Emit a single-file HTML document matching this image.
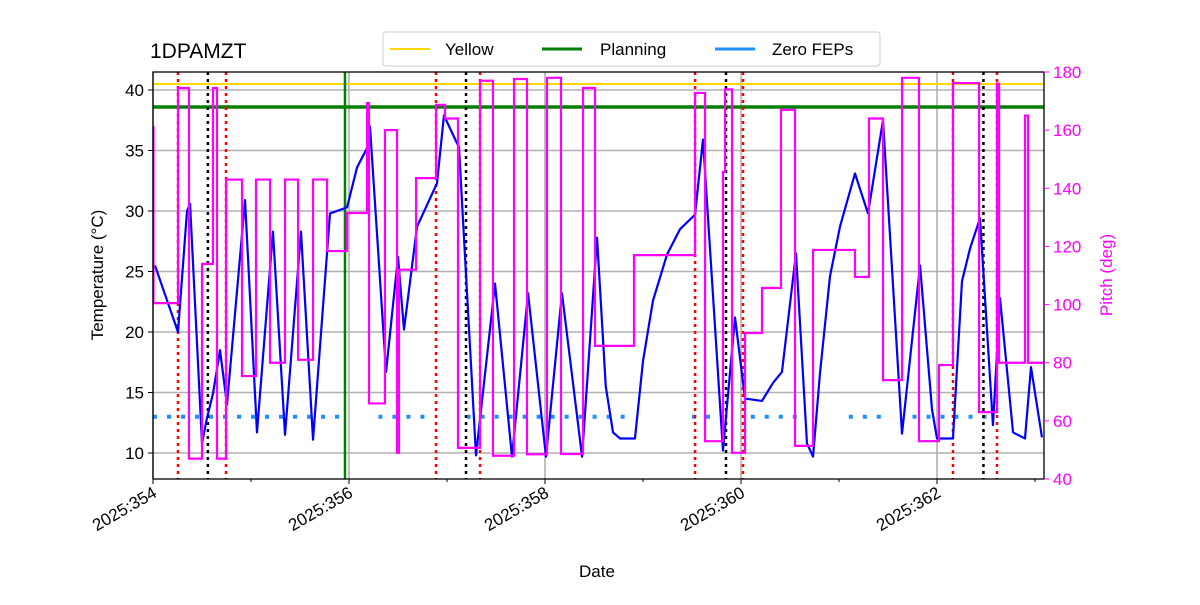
<!DOCTYPE html>
<html><head><meta charset="utf-8"><style>
body{margin:0;background:#fff;}
svg text{font-family:"Liberation Sans","DejaVu Sans",sans-serif;}
</style></head><body>
<svg id="chart" width="1200" height="600" xmlns="http://www.w3.org/2000/svg">
<rect width="1200" height="600" fill="#fff"/>
<g id="grid"></g><g id="series"></g><g id="axes"></g>
<text x="150" y="58" font-size="21">1DPAMZT</text>
<text x="597" y="577" font-size="17" text-anchor="middle">Date</text>
<text transform="translate(103,275) rotate(-90)" font-size="17" text-anchor="middle">Temperature (°C)</text>
<text transform="translate(1112,275) rotate(-90)" font-size="17" text-anchor="middle" fill="magenta">Pitch (deg)</text>
<g>
<rect x="383" y="32" width="497" height="34" rx="3" fill="#fff" stroke="#ccc"/>
<line x1="390" y1="49" x2="430" y2="49" stroke="gold" stroke-width="2"/>
<text x="445" y="55" font-size="17">Yellow</text>
<line x1="542" y1="49" x2="582" y2="49" stroke="green" stroke-width="3"/>
<text x="600" y="55" font-size="17">Planning</text>
<line x1="715" y1="49" x2="755" y2="49" stroke="dodgerblue" stroke-width="3"/>
<text x="772" y="55" font-size="17">Zero FEPs</text>
</g>
</svg>
<script>
const tempDays=[354.02,354.255,354.347,354.378,354.5,354.551,354.612,354.684,354.755,354.939,355.061,355.224,355.347,355.51,355.633,355.806,355.98,356.082,356.184,356.214,356.378,356.5,356.561,356.694,356.898,356.969,357.102,357.122,357.296,357.49,357.663,357.827,358.01,358.173,358.378,358.531,358.62,358.694,358.765,358.918,359.0,359.102,359.245,359.378,359.531,359.612,359.816,359.939,360.041,360.214,360.327,360.418,360.561,360.673,360.735,360.806,360.908,361.01,361.163,361.296,361.449,361.643,361.827,361.949,362.0,362.163,362.255,362.337,362.439,362.571,362.643,362.776,362.898,362.959,363.071];
const tempVals=[25.5,20,30,30.6,10.8,12.9,14.9,18.5,14,30.9,11.7,28.3,11.5,28.3,11.1,29.8,30.3,33.6,35.2,37,16.7,26.2,20.2,28.7,32.3,37.9,35.6,35.3,9.8,24,9.7,23.2,9.7,23.2,9.7,27.8,15.5,11.7,11.2,11.2,17.6,22.6,26.4,28.5,29.7,35.9,10.2,21.2,14.5,14.3,15.8,16.7,26.5,10.8,9.7,16.6,24.6,28.7,33.1,29.8,37.5,11.6,25.5,13.6,11.2,11.2,24.2,26.9,29.4,12.3,22.8,11.7,11.2,17.1,11.3];
const pitchDays=[354.0,354.005,354.255,354.367,354.5,354.612,354.653,354.745,354.908,355.051,355.194,355.347,355.48,355.633,355.776,355.98,356.184,356.204,356.367,356.49,356.51,356.684,356.888,356.98,357.112,357.337,357.469,357.684,357.816,358.02,358.163,358.388,358.51,358.908,359.531,359.633,359.816,359.837,359.908,360.041,360.214,360.408,360.551,360.735,361.163,361.306,361.449,361.643,361.816,362.02,362.163,362.429,362.612,362.633,362.898,362.929,363.09];
const pitchVals=[161,100.5,174.5,47,114,174.5,47,143,75.4,143,80,143,81,143,118.4,131.5,169.3,66,160,49,112,143.5,168.7,164,50.7,177,48,177.6,48.5,178,48.6,174.5,85.8,117,172.8,53,145.6,174,49,90.2,105.7,167,51.4,118.8,109.5,164,74,178,53,79.2,176.2,63,176,80,165,80,80];
const redLines=[354.255,354.745,356.888,357.337,359.531,360.02,362.163,362.612];
const blackLines=[354.56,357.194,359.847,362.474];
const planningDay=355.959;
const yellowLimit=40.5, planningLimit=38.6, zeroFep=13;
const fepSegments=[[354.0,356.0],[356.3,356.8],[357.2,358.9],[359.5,359.9],[360.1,360.6],[361.1,361.45],[361.75,362.6]];
const leftTicks=[10,15,20,25,30,35,40];
const rightTicks=[40,60,80,100,120,140,160,180];
const xTicks=[354,356,358,360,362];
const xMinor=[355,357,359,361,363];

const L=153,R=1044,T=72,B=479;
const x=d=>L+(d-354)*98;
const y=v=>453-(v-10)*12.1;
const yp=p=>B-(p-40)*(B-T)/140;
const NS='http://www.w3.org/2000/svg';
function mk(par,tag,at){const e=document.createElementNS(NS,tag);for(const k in at)e.setAttribute(k,at[k]);document.getElementById(par).appendChild(e);return e;}

for(const v of leftTicks){const e=mk('grid','line',{x1:L,x2:R,y1:y(v),y2:y(v),stroke:'#b0b0b0','stroke-width':1.6});

}
for(const d of xTicks){const e=mk('grid','line',{x1:x(d),x2:x(d),y1:T,y2:B,stroke:'#b0b0b0','stroke-width':1.6});

}

let e;
e=mk('series','line',{x1:L,x2:R,y1:y(yellowLimit),y2:y(yellowLimit),stroke:'gold','stroke-width':2});


e=mk('series','line',{x1:L,x2:R,y1:y(planningLimit),y2:y(planningLimit),stroke:'green','stroke-width':3.5});


e=mk('series','line',{x1:x(planningDay),x2:x(planningDay),y1:T,y2:B,stroke:'green','stroke-width':2.5});


for(const s of fepSegments){e=mk('series','line',{x1:x(s[0]),x2:x(s[1]),y1:y(zeroFep),y2:y(zeroFep),stroke:'dodgerblue','stroke-width':4,'stroke-dasharray':'4 10'});

}
for(const d of redLines){e=mk('series','line',{x1:x(d),x2:x(d),y1:T,y2:B,stroke:'red','stroke-width':2.5,'stroke-dasharray':'3 4'});

}
for(const d of blackLines){e=mk('series','line',{x1:x(d),x2:x(d),y1:T,y2:B,stroke:'black','stroke-width':2.5,'stroke-dasharray':'3 4'});

}

let pts=tempDays.map((d,i)=>x(d)+','+y(tempVals[i])).join(' ');
e=mk('series','polyline',{points:pts,fill:'none',stroke:'blue','stroke-width':2.2,'stroke-linejoin':'round'});


let sp=[];
for(let i=0;i<pitchDays.length;i++){if(i>0)sp.push(x(pitchDays[i])+','+yp(pitchVals[i-1]));sp.push(x(pitchDays[i])+','+yp(pitchVals[i]));}
e=mk('series','polyline',{points:sp.join(' '),fill:'none',stroke:'magenta','stroke-width':2.2});



e=mk('axes','rect',{x:L,y:T,width:R-L,height:B-T,fill:'none',stroke:'#000','stroke-width':1.3});


for(const v of leftTicks){mk('axes','line',{x1:L-5,x2:L,y1:y(v),y2:y(v),stroke:'#000'});
e=mk('axes','text',{x:L-9,y:y(v)+6,'font-size':17,'text-anchor':'end'});e.textContent=v;

}
for(const p of rightTicks){mk('axes','line',{x1:R,x2:R+5,y1:yp(p),y2:yp(p),stroke:'magenta'});
e=mk('axes','text',{x:R+9,y:yp(p)+6,'font-size':17,fill:'magenta'});e.textContent=p;

}
for(const d of xMinor){mk('axes','line',{x1:x(d),x2:x(d),y1:B,y2:B+3,stroke:'#000'});}
for(const d of xTicks){mk('axes','line',{x1:x(d),x2:x(d),y1:B,y2:B+5,stroke:'#000'});
e=mk('axes','text',{transform:'translate('+(x(d)+5)+','+(B+17)+') rotate(-30)','font-size':17,'text-anchor':'end'});e.textContent='2025:'+d;

}
</script>
</body></html>
